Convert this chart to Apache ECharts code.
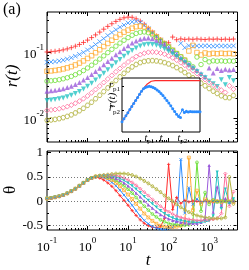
<!DOCTYPE html>
<html><head><meta charset="utf-8">
<script src="https://cdn.jsdelivr.net/npm/echarts@6/dist/echarts.min.js"></script>
<style>html,body{margin:0;padding:0;background:#fff}#c{width:249px;height:270px}</style>
</head><body><div id="c"></div>
<script>
// ---------- data ----------
const tValues = [0.1,0.126,0.158,0.2,0.251,0.316,0.398,0.501,0.631,0.794,
  1,1.26,1.58,2,2.51,3.16,3.98,5.01,6.31,7.94,
  10,12.6,15.8,20,25.1,31.6,39.8,50.1,63.1,79.4,
  100,126,158,200,251,316,398,501,631,794,
  1000,1260,1580,2000,2510,3160,3980];

const rExpRed = [-1,-0.995,-0.989,-0.98,-0.968,-0.953,-0.935,-0.912,-0.886,-0.856,-0.821,-0.783,-0.742,-0.70,-0.656,-0.614,-0.574,-0.539,-0.508,-0.485,-0.474,
  -0.477,-0.5,-0.535,-0.582,-0.64,-0.70,-0.758,-0.815,-0.866,
  -0.86,-0.775,-0.815,-0.802,-0.81,-0.805,-0.809,-0.803,-0.808,-0.812,-0.805,-0.808,-0.804,-0.81,-0.806,-0.809,-0.805];
const rExpBlue = [-1.155,-1.15,-1.144,-1.134,-1.122,-1.106,-1.087,-1.063,-1.036,-1.005,-0.969,-0.929,-0.887,-0.843,-0.797,-0.751,-0.706,-0.664,-0.626,-0.594,
  -0.562,-0.545,-0.54,-0.553,-0.595,-0.65,-0.71,-0.765,-0.82,-0.87,-0.921,-0.972,-1.02,
  -0.87,-0.935,-0.904,-0.915,-0.907,-0.912,-0.905,-0.91,-0.914,-0.906,-0.911,-0.908,-0.912,-0.907];
const rExpOrange = [-1.29,-1.285,-1.278,-1.268,-1.255,-1.239,-1.22,-1.195,-1.167,-1.134,-1.097,-1.056,-1.011,-0.966,-0.918,-0.871,-0.823,-0.778,-0.737,-0.701,-0.67,
  -0.642,-0.618,-0.61,-0.622,-0.66,-0.714,-0.77,-0.824,-0.874,-0.923,-0.973,-1.023,-1.073,-1.122,
  -0.985,-0.9,-1.008,-1.045,-1.015,-1.03,-1.02,-1.026,-1.019,-1.025,-1.021,-1.027];
const rExpGreen = [-1.44,-1.434,-1.428,-1.418,-1.404,-1.388,-1.368,-1.342,-1.313,-1.28,-1.241,-1.199,-1.154,-1.107,-1.058,-1.009,-0.96,-0.912,-0.866,-0.823,-0.783,
  -0.748,-0.72,-0.703,-0.698,-0.71,-0.742,-0.785,-0.832,-0.878,-0.925,-0.974,-1.024,-1.073,-1.123,-1.173,-1.223,
  -1.076,-1.189,-1.114,-1.149,-1.133,-1.138,-1.134,-1.14,-1.135,-1.138];
const rExpPurple = [-1.59,-1.584,-1.577,-1.567,-1.553,-1.536,-1.515,-1.489,-1.459,-1.424,-1.384,-1.34,-1.293,-1.245,-1.194,-1.144,-1.093,-1.043,-0.995,-0.948,-0.905,
  -0.866,-0.833,-0.808,-0.793,-0.79,-0.8,-0.825,-0.86,-0.9,-0.945,-0.99,-1.037,-1.085,-1.133,-1.18,-1.227,-1.274,-1.323,-1.373,
  -1.242,-1.318,-1.25,-1.28,-1.262,-1.27,-1.265];
const rExpTeal = [-1.73,-1.724,-1.717,-1.706,-1.692,-1.674,-1.653,-1.625,-1.594,-1.559,-1.517,-1.472,-1.423,-1.373,-1.321,-1.268,-1.216,-1.164,-1.113,-1.064,-1.018,
  -0.976,-0.939,-0.91,-0.892,-0.884,-0.887,-0.9,-0.924,-0.955,-0.99,-1.03,-1.072,-1.116,-1.161,-1.206,-1.252,-1.298,-1.345,-1.39,-1.436,-1.479,-1.52,
  -1.417,-1.492,-1.386,-1.432];
const rExpPink = [-1.88,-1.874,-1.867,-1.856,-1.841,-1.823,-1.801,-1.773,-1.741,-1.704,-1.662,-1.615,-1.565,-1.514,-1.46,-1.407,-1.353,-1.299,-1.248,-1.198,-1.151,
  -1.108,-1.07,-1.04,-1.018,-1.005,-1.0,-1.004,-1.015,-1.033,-1.058,-1.088,-1.122,-1.16,-1.2,-1.24,-1.282,-1.325,-1.37,-1.415,-1.46,-1.5,-1.54,-1.575,-1.61,
  -1.51,-1.56];
const rExpOlive = [-2.03,-2.024,-2.016,-2.005,-1.99,-1.971,-1.948,-1.919,-1.886,-1.849,-1.804,-1.757,-1.705,-1.652,-1.597,-1.541,-1.486,-1.43,-1.375,-1.321,-1.27,
  -1.225,-1.188,-1.16,-1.142,-1.133,-1.13,-1.135,-1.145,-1.16,-1.18,-1.205,-1.235,-1.27,-1.31,-1.35,-1.39,-1.43,-1.47,-1.51,-1.55,-1.59,-1.625,-1.66,-1.685,-1.69,-1.655];

// theta(t), lower panel
const thetaRed = [0.06,0.07,0.085,0.105,0.13,0.165,0.21,0.26,0.32,0.38,0.44,0.48,
  0.5,0.48,0.44,0.38,0.31,0.22,0.12,0.02,-0.08,-0.19,-0.29,-0.38,-0.45,-0.5,-0.53,-0.54,-0.52,-0.35,0.76,-0.17,0.08,-0.04,0.02,-0.01,0.01,0.0,-0.01,0.01,0.0,-0.01,0.01,0.0,0.01,-0.01,0.0];
const thetaBlue = [0.06,0.07,0.085,0.105,0.13,0.165,0.21,0.26,0.32,0.38,0.44,0.48,
  0.51,0.51,0.49,0.45,0.39,0.32,0.23,0.13,0.03,-0.08,-0.19,-0.3,-0.39,-0.46,-0.52,-0.55,-0.57,-0.57,-0.56,-0.54,-0.4,0.86,-0.24,0.28,-0.06,0.05,-0.02,0.01,0.0,0.01,-0.01,0.0,0.01,-0.01,0.0];
const thetaOrange = [0.06,0.07,0.085,0.105,0.13,0.165,0.21,0.26,0.32,0.38,0.44,0.48,
  0.51,0.52,0.51,0.48,0.44,0.38,0.31,0.23,0.14,0.05,-0.05,-0.15,-0.25,-0.33,-0.4,-0.46,-0.5,-0.52,-0.53,-0.53,-0.52,-0.5,-0.42,0.9,-0.18,0.22,-0.05,0.04,-0.01,0.01,0.0,-0.01,0.01,0.0,-0.01];
const thetaGreen = [0.06,0.07,0.085,0.105,0.13,0.165,0.21,0.26,0.32,0.38,0.44,0.48,
  0.51,0.52,0.52,0.5,0.47,0.43,0.38,0.32,0.25,0.17,0.08,-0.01,-0.1,-0.18,-0.26,-0.32,-0.38,-0.42,-0.45,-0.47,-0.48,-0.49,-0.49,-0.48,-0.42,0.8,-0.2,0.18,-0.06,0.03,-0.01,0.01,0.0,-0.01,0.01];
const thetaPurple = [0.06,0.07,0.085,0.105,0.13,0.165,0.21,0.26,0.32,0.38,0.44,0.48,
  0.51,0.52,0.53,0.52,0.5,0.47,0.43,0.38,0.32,0.25,0.17,0.09,0.01,-0.07,-0.14,-0.21,-0.27,-0.32,-0.36,-0.39,-0.41,-0.43,-0.44,-0.45,-0.45,-0.45,-0.43,-0.35,0.74,-0.22,0.3,-0.1,0.06,-0.02,0.01];
const thetaTeal = [0.06,0.07,0.085,0.105,0.13,0.165,0.21,0.26,0.32,0.38,0.44,0.48,
  0.51,0.52,0.53,0.53,0.52,0.5,0.47,0.43,0.38,0.32,0.25,0.18,0.1,0.02,-0.05,-0.12,-0.19,-0.25,-0.3,-0.34,-0.37,-0.39,-0.41,-0.42,-0.43,-0.43,-0.43,-0.42,-0.4,-0.3,0.6,-0.15,0.25,-0.05,0.05];
const thetaPink = [0.06,0.07,0.085,0.105,0.13,0.165,0.21,0.26,0.32,0.38,0.44,0.48,
  0.51,0.52,0.53,0.54,0.54,0.53,0.51,0.48,0.44,0.39,0.33,0.26,0.19,0.12,0.04,-0.03,-0.1,-0.16,-0.21,-0.26,-0.3,-0.33,-0.35,-0.37,-0.38,-0.39,-0.39,-0.39,-0.38,-0.37,-0.35,-0.25,0.57,-0.1,0.2];
const thetaOlive = [0.06,0.07,0.085,0.105,0.13,0.165,0.21,0.26,0.32,0.38,0.44,0.48,
  0.51,0.53,0.54,0.55,0.56,0.57,0.57,0.57,0.56,0.54,0.51,0.47,0.42,0.37,0.31,0.25,0.19,0.12,0.06,0.0,-0.06,-0.12,-0.17,-0.22,-0.26,-0.29,-0.31,-0.33,-0.34,-0.35,-0.35,-0.35,-0.33,0.5,-0.05];

// inset (arbitrary units)
const insetX = [0,2.5,5,7.5,10,12.5,15,17.5,20,22.5,25,27.5,30,32.5,35,37.5,40,42.5,45,47.5,50,52.5,55,57.5,60,62.5,65,67.5,70,72.5,75,77.5,80,82.5,85,87.5,90,92.5,95,97.5,100];
const insetBlue = [19,24.5,30,35.5,41.5,47,53,58.5,64,70,75.5,80,82.5,84,84.5,84,82.5,80.5,78,75,71.5,67.5,63,58.5,53.5,48.5,43,38,33,28.5,27,41,36,38.5,37,37.8,37.3,37.6,37.4,37.7,37.5];
const insetRed = [19,24.5,30,35.5,41.5,47,53,58.5,64,70,75.5,80.5,85,89,92,94,95,95,95,95,95,95,95,95,95,95,95,95,95,95,95,95,95,95,95,95,95,95,95,95,95];
const insetTp1 = 35, insetRp1 = 84.5, insetTp2 = 77.5, insetRp2 = 41;

// tick labels
const xDecadeExp = [-1,0,1,2,3];
const rDecadeExp = [-2,-1];
const thetaTicks = [-0.5,0,0.5,1];
const thetaMinor = [-0.25,0.25,0.75];
const minorMult = [2,3,4,5,6,7,8,9];

// ---------- layout / style ----------
const SERIF = 'Liberation Serif';
const X_MIN = -1, X_MAX = 3.7, R_MIN = -2.357, R_MAX = -0.397, TH_MIN = -0.588, TH_MAX = 1.035;

function minorTicks(decades, lo, hi){
  const out=[]; decades.forEach(d=>minorMult.forEach(m=>{const v=d+Math.log10(m); if(v>lo+1e-3&&v<hi-1e-3) out.push(v);})); return out;
}
const xMinor = minorTicks([-2,-1,0,1,2,3], X_MIN, X_MAX);
const rMinor = minorTicks([-3,-2,-1], R_MIN, R_MAX);

const supRich = {
  b:{fontFamily:SERIF,fontSize:13,lineHeight:18,verticalAlign:'bottom',color:'#000'},
  s:{fontFamily:SERIF,fontSize:9,lineHeight:9,verticalAlign:'top',color:'#000'}
};
function axis(grid,pos,min,max,ticks,len,label,z){
  return {type:'value',gridIndex:grid,position:pos,min:min,max:max,
    axisLine:{show:false,onZero:false},splitLine:{show:false},splitArea:{show:false},
    axisTick:{show:true,inside:true,length:len,customValues:ticks,lineStyle:{color:'#000',width:1}},
    axisLabel: label ? Object.assign({show:true,customValues:ticks},label) : {show:false},
    z: z||0};
}
const decLabel = (m)=>({margin:m,formatter:v=>'{b|10}{s|'+Math.round(v)+'}',rich:supRich});
const subRich = {
  i:{fontFamily:SERIF,fontSize:10,fontStyle:'italic',lineHeight:12,verticalAlign:'top',color:'#000'},
  s:{fontFamily:SERIF,fontSize:7,lineHeight:7,verticalAlign:'bottom',color:'#000'}
};

const xAxes = [
  axis(0,'bottom',X_MIN,X_MAX,xDecadeExp,4,null),
  axis(0,'bottom',X_MIN,X_MAX,xMinor,2,null),
  axis(0,'top',X_MIN,X_MAX,xDecadeExp,4,null),
  axis(0,'top',X_MIN,X_MAX,xMinor,2,null),
  axis(1,'bottom',X_MIN,X_MAX,xDecadeExp,4,decLabel(6)),
  axis(1,'bottom',X_MIN,X_MAX,xMinor,2,null),
  axis(1,'top',X_MIN,X_MAX,xDecadeExp,4,null),
  axis(1,'top',X_MIN,X_MAX,xMinor,2,null),
  axis(2,'bottom',0,100,[insetTp1,insetTp2],2,{margin:1,formatter:v=>'{i|t}{s|'+(v===insetTp1?'p1':'p2')+'}',rich:subRich},12)
];
const yAxes = [
  axis(0,'left',R_MIN,R_MAX,rDecadeExp,4,decLabel(3)),
  axis(0,'left',R_MIN,R_MAX,rMinor,2,null),
  axis(0,'right',R_MIN,R_MAX,rDecadeExp,4,null),
  axis(0,'right',R_MIN,R_MAX,rMinor,2,null),
  axis(1,'left',TH_MIN,TH_MAX,thetaTicks,4,{margin:4,fontFamily:SERIF,fontSize:13,color:'#000',formatter:v=>String(v)}),
  axis(1,'left',TH_MIN,TH_MAX,thetaMinor,2,null),
  axis(1,'right',TH_MIN,TH_MAX,thetaTicks,4,null),
  axis(1,'right',TH_MIN,TH_MAX,thetaMinor,2,null),
  axis(2,'left',0,100,[insetRp2,insetRp1],2,{margin:2,formatter:v=>'{i|r}{s|'+(v===insetRp1?'p1':'p2')+'}',rich:subRich},12)
];

const SYM = {
  plus:'path://M5,0L5,10M0,5L10,5',
  cross:'path://M0,0L10,10M10,0L0,10',
  triDown:'path://M0,0L10,0L5,8.66Z',
  hex:'path://M2.5,0L7.5,0L10,5L7.5,10L2.5,10L0,5Z'
};
const defs = [
  {name:'red',   color:'#ff2a2a', symbol:SYM.plus,  size:5,   filled:false, r:rExpRed,    th:thetaRed},
  {name:'blue',  color:'#2b8cff', symbol:SYM.cross, size:4.5, filled:false, r:rExpBlue,   th:thetaBlue},
  {name:'orange',color:'#ffad33', symbol:'rect',    size:4.5, filled:false, r:rExpOrange, th:thetaOrange},
  {name:'green', color:'#6fe03a', symbol:'circle',  size:4.5, filled:false, r:rExpGreen,  th:thetaGreen},
  {name:'purple',color:'#9b5bdb', symbol:'triangle',size:5,   filled:true,  r:rExpPurple, th:thetaPurple},
  {name:'teal',  color:'#26c3c3', symbol:SYM.triDown,size:5,  filled:true,  r:rExpTeal,   th:thetaTeal},
  {name:'pink',  color:'#ff6f9c', symbol:'diamond', size:5,   filled:false, r:rExpPink,   th:thetaPink},
  {name:'olive', color:'#b3b340', symbol:SYM.hex,   size:4.5, filled:false, r:rExpOlive,  th:thetaOlive}
];
function itemStyle(d,bw){
  return d.filled ? {color:d.color} : {color:'rgba(0,0,0,0)',borderColor:d.color,borderWidth:bw};
}

const series = [];
defs.forEach(d=>{
  series.push({type:'scatter',name:d.name+'-r',xAxisIndex:0,yAxisIndex:0,
    data:tValues.map((t,i)=>[Math.log10(t),d.r[i]]),
    symbol:d.symbol,symbolSize:d.size,itemStyle:itemStyle(d,1),z:2,silent:true});
});
series.push({type:'line',name:'guides',xAxisIndex:4,yAxisIndex:4,data:[],
  markLine:{silent:true,symbol:'none',label:{show:false},lineStyle:{type:[1,2],color:'#777',width:1},
    data:[{yAxis:0.5},{yAxis:0},{yAxis:-0.5}]},z:1});
defs.forEach(d=>{
  series.push({type:'line',name:d.name+'-theta',xAxisIndex:4,yAxisIndex:4,
    data:tValues.map((t,i)=>[Math.log10(t),d.th[i]]),
    symbol:d.symbol,symbolSize:d.size*0.65,showAllSymbol:true,
    lineStyle:{color:d.color,width:1},itemStyle:itemStyle(d,0.8),z:2,silent:true});
});
series.push({type:'line',name:'inset-red',xAxisIndex:8,yAxisIndex:8,
  data:insetX.map((x,i)=>[x,insetRed[i]]),showSymbol:false,lineStyle:{color:'#ff2a2a',width:1.2},z:12,silent:true,
  markLine:{silent:true,symbol:'none',label:{show:false},lineStyle:{type:[1,2],color:'#666',width:1},
    data:[[{coord:[0,insetRp1]},{coord:[insetTp1,insetRp1]}],[{coord:[insetTp1,0]},{coord:[insetTp1,insetRp1]}],
          [{coord:[0,insetRp2]},{coord:[insetTp2,insetRp2]}],[{coord:[insetTp2,0]},{coord:[insetTp2,insetRp2]}]]}});
series.push({type:'line',name:'inset-blue',xAxisIndex:8,yAxisIndex:8,
  data:insetX.map((x,i)=>[x,insetBlue[i]]),symbol:'circle',symbolSize:3,showAllSymbol:true,
  lineStyle:{color:'#2b8cff',width:1},itemStyle:{color:'#2b8cff'},z:13,silent:true});

const chart = echarts.init(document.getElementById('c'),null,{renderer:'canvas',width:249,height:270});
chart.setOption({
  animation:false,
  backgroundColor:'#fff',
  grid:[
    {left:47,top:12,width:190.5,height:130,show:true,borderColor:'#000',borderWidth:1,backgroundColor:'rgba(0,0,0,0)'},
    {left:47,top:151,width:190.5,height:79,show:true,borderColor:'#000',borderWidth:1,backgroundColor:'rgba(0,0,0,0)'},
    {left:122,top:78,width:78,height:54,show:true,borderColor:'#000',borderWidth:1,backgroundColor:'#fff',z:10}
  ],
  xAxis:xAxes,
  yAxis:yAxes,
  series:series,
  graphic:[
    {type:'text',left:3,top:2,style:{text:'(a)',font:'16px "Liberation Serif"',fill:'#000'},z:20},
    {type:'text',x:13,y:76,rotation:Math.PI/2,style:{text:'r(t)',font:'italic 17px "Liberation Serif"',fill:'#000',align:'center',verticalAlign:'middle'},z:20},
    {type:'text',x:11,y:190,rotation:Math.PI/2,style:{text:'θ',font:'17px "Liberation Serif"',fill:'#000',align:'center',verticalAlign:'middle'},z:20},
    {type:'text',x:148,y:261,style:{text:'t',font:'italic 17px "Liberation Serif"',fill:'#000',align:'center',verticalAlign:'middle'},z:20},
    {type:'text',x:112,y:100,rotation:Math.PI/2,style:{text:'r(t)',font:'italic 11px "Liberation Serif"',fill:'#000',align:'center',verticalAlign:'middle'},z:20},
    {type:'text',x:161,y:138,style:{text:'t',font:'italic 11px "Liberation Serif"',fill:'#000',align:'center',verticalAlign:'middle'},z:20}
  ]
});
</script></body></html>
